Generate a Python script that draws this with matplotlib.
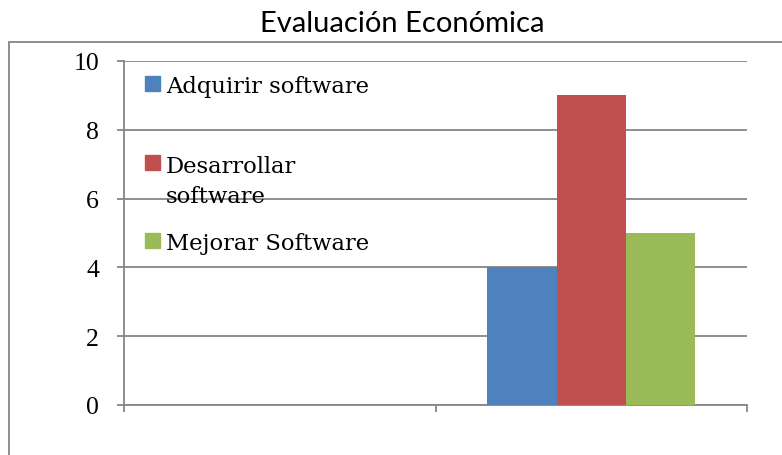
import matplotlib
matplotlib.use("Agg")
import matplotlib.pyplot as plt
from matplotlib.patches import Rectangle
import numpy as np

title = "Evaluación Económica"
categories = ["", ""]
series_names = ["Adquirir software", "Desarrollar\nsoftware", "Mejorar Software"]
adquirir = [np.nan, 4]
desarrollar = [np.nan, 9]
mejorar = [np.nan, 5]
yticks = [0, 2, 4, 6, 8, 10]

colors = ["#4F81BD", "#C0504D", "#9BBB59"]
grid_c = "#868686"

fig = plt.figure(figsize=(7.82, 4.56), dpi=100)
W, H = 782, 456
ax = fig.add_axes([124 / W, 1 - 406 / H, (747 - 124) / W, (406 - 62) / H])

x = np.arange(len(categories))
bw = 0.6667 / 3
for i, vals in enumerate([adquirir, desarrollar, mejorar]):
    ax.bar(x + (i - 1) * bw, vals, width=bw, color=colors[i], linewidth=0, zorder=3)

ax.set_xlim(-0.5, len(categories) - 0.5)
ax.set_ylim(0, 10)
ax.set_yticks(yticks)
ax.set_yticklabels([str(t) for t in yticks], fontfamily="Liberation Serif", fontsize=18.5)
ax.set_xticks([-0.5, 0.5, 1.5])
ax.set_xticklabels(["", "", ""])
ax.grid(axis="y", color=grid_c, linewidth=1.3, zorder=0)
for s in ["top", "right"]:
    ax.spines[s].set_visible(False)
for s in ["left", "bottom"]:
    ax.spines[s].set_color(grid_c)
    ax.spines[s].set_linewidth(1.3)
ax.tick_params(axis="both", direction="out", length=5, width=1.3, color=grid_c)
ax.tick_params(axis="y", pad=13)

# legend entries drawn inside plot area
leg_base = [93, 172, 250]
line_h = 31
for i, name in enumerate(series_names):
    yb = leg_base[i]
    nlines = name.count("\n") + 1
    fig.patches.append(Rectangle((145 / W, 1 - (yb - 1) / H), 15 / W, 15 / H,
                                 transform=fig.transFigure, color=colors[i], zorder=5))
    fig.text(166 / W, 1 - (yb + line_h * (nlines - 1)) / H, name, fontfamily="DejaVu Serif",
             fontsize=16.3, va="baseline", ha="left", linespacing=1.49, zorder=6)

fig.text(402 / W, 1 - 32 / H, title, fontfamily="Lato", fontsize=21, ha="center", va="baseline")

# outer chart frame (clipped at figure edge)
fig.patches.append(Rectangle((9 / W, -0.2), 1.2, 1 - 43 / H + 0.2, transform=fig.transFigure,
                             fill=False, edgecolor=grid_c, linewidth=1.3))

fig.savefig("out.png", dpi=100)
